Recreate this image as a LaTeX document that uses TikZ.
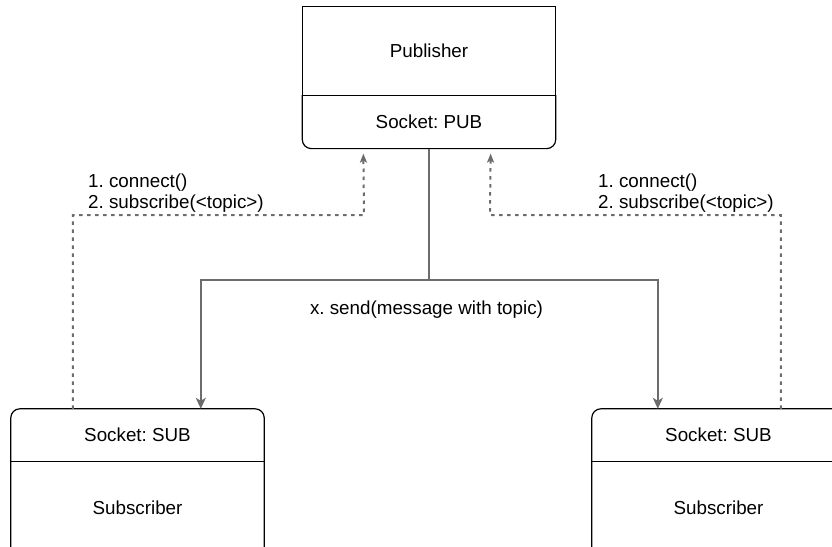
\documentclass[tikz,border=0pt]{standalone}
\usepackage{fontspec}
\setmainfont{Liberation Sans}
\frenchspacing
\usetikzlibrary{positioning,arrows.meta}
\definecolor{wireGray}{RGB}{108,108,108}

\begin{document}
\begin{tikzpicture}[x=1pt,y=-1pt,
  part/.style={minimum width=253pt,inner sep=0pt,font=\fontsize{18.8}{22}\selectfont},
  msg/.style={wireGray,line width=2.6pt,-{Stealth[length=11pt,width=10pt,inset=3pt]}},
  req/.style={wireGray,line width=2pt,dash pattern=on 3.5pt off 4.5pt,-{Stealth[length=9pt,width=7pt,inset=2pt]}},
  note/.style={anchor=base west,inner sep=0pt,font=\fontsize{18.8}{22}\selectfont}]
\useasboundingbox (0,0) rectangle (832,546);
\clip (0,0) rectangle (832,546);

% publisher
\node [part,minimum height=88pt] (pub) at (429,51) {Publisher};
\node [part,minimum height=53pt,below=0pt of pub] (pubsock) {Socket: PUB};
\draw [line width=1.2pt] (pub.south west) -- (pub.north west) -- (pub.north east) -- (pub.south east);
\draw [line width=1.2pt,rounded corners=9pt] (pub.south west) -- (pubsock.south west) -- (pubsock.south east) -- (pub.south east);
\draw [line width=1pt] (pub.south west) -- (pub.south east);

% subscribers
\node [part,minimum height=52pt] (subLsock) at (137.5,435) {Socket: SUB};
\node [part,minimum height=92pt,below=0pt of subLsock] (subL) {Subscriber};
\draw [line width=1.2pt,rounded corners=9pt] (subL.south west) -- (subLsock.north west) -- (subLsock.north east) -- (subL.south east);
\draw [line width=1pt] (subLsock.south west) -- (subLsock.south east);

\node [part,minimum height=52pt] (subRsock) at (718.5,435) {Socket: SUB};
\node [part,minimum height=92pt,below=0pt of subRsock] (subR) {Subscriber};
\draw [line width=1.2pt,rounded corners=9pt] (subR.south west) -- (subRsock.north west) -- (subRsock.north east) -- (subR.south east);
\draw [line width=1pt] (subRsock.south west) -- (subRsock.south east);

% send
\coordinate (fork) at (429,280);
\draw [msg] (pubsock.south) -- (fork) -| ([xshift=190pt]subLsock.north west);
\draw [msg] (fork) -| ([xshift=66pt]subRsock.north west);
\node [note,anchor=base] (sendtxt) at (426.5,314) {x. send(message with topic)};

% connect / subscribe
\coordinate (reqL) at (364,215);
\coordinate (reqR) at (490,215);
\draw [req,shorten >=5pt] ([xshift=62pt]subLsock.north west) |- (reqL) -- ([xshift=61pt]pubsock.south west);
\draw [req,shorten >=5pt] ([xshift=189pt]subRsock.north west) |- (reqR) -- ([xshift=-65pt]pubsock.south east);

\node [note] (reqLtxt1) at (88,187) {1. connect()};
\node [note] (reqLtxt2) at (88,208) {2. subscribe(<topic>)};
\node [note] (reqRtxt1) at (598,187) {1. connect()};
\node [note] (reqRtxt2) at (598,208) {2. subscribe(<topic>)};

\end{tikzpicture}
\end{document}
